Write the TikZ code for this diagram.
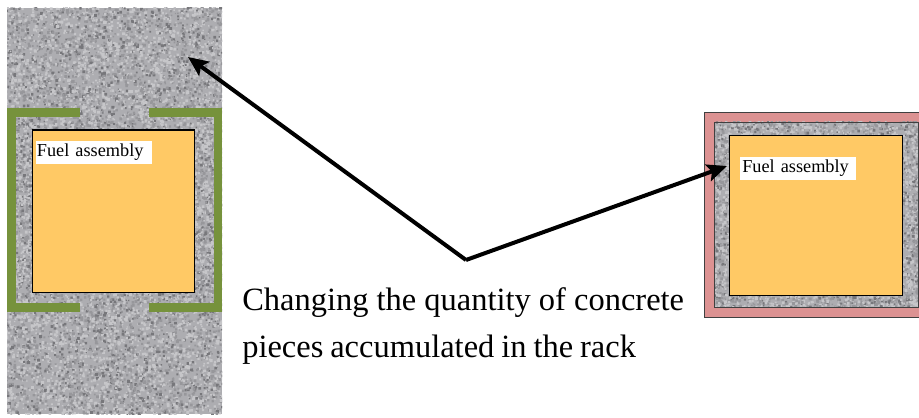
\documentclass[tikz,border=0pt]{standalone}
\usepackage{fontspec}
\setmainfont{Liberation Serif}
\usetikzlibrary{arrows.meta}
\definecolor{concbase}{HTML}{ADADB1}
\definecolor{concdark}{HTML}{77777B}
\definecolor{concmid}{HTML}{97979B}
\definecolor{conclight}{HTML}{C6C6C9}
\definecolor{rackgreen}{HTML}{76923C}
\definecolor{fuelorange}{HTML}{FFC965}
\definecolor{linerpink}{HTML}{DC9292}
\tikzset{
  x=0.75pt,y=-0.75pt,
  concrete/.style={fill=concbase,draw=none},
  fuelbox/.style={draw=black,line width=0.9pt,fill=fuelorange,inner sep=0pt,anchor=north west},
  fuellabel/.style={fill=white,inner sep=0pt,anchor=north west,font=\fontsize{13.7pt}{15pt}\selectfont,align=left},
  rackbar/.style={fill=rackgreen,draw=none},
  pointer/.style={draw=black,line width=3pt,-{Stealth[length=15pt,width=13pt,inset=3pt]}},
  caption/.style={anchor=north west,align=left,inner sep=0pt,font=\fontsize{24.35pt}{35.2pt}\selectfont}
}
% one batch: #1 small squares of colour #2 in the box x #3..#4, y #5..#6 (reference pixels)
\newcommand{\grainbatch}[6]{%
  \begin{pgfscope}\pgfsetfillcolor{#2}%
  \foreach \n in {1,...,#1}{%
    \pgfmathsetmacro{\gs}{0.9+rnd*1.3}%
    \pgfmathsetmacro{\gx}{0.75*(#3+rnd*(#4-#3))}%
    \pgfmathsetmacro{\gy}{-0.75*(#5+rnd*(#6-#5))}%
    \pgfpathrectangle{\pgfqpoint{\gx pt}{\gy pt}}{\pgfqpoint{\gs pt}{-\gs pt}}%
  }%
  \pgfusepath{fill}\end{pgfscope}%
}
% #1 rounds of interleaved batches
\newcommand{\grain}[5]{%
  \foreach \r in {1,...,#1}{%
    \grainbatch{8}{concdark}{#2}{#3}{#4}{#5}%
    \grainbatch{22}{conclight}{#2}{#3}{#4}{#5}%
    \grainbatch{18}{concmid}{#2}{#3}{#4}{#5}%
  }%
}
\begin{document}
\begin{tikzpicture}
\useasboundingbox (0,0) rectangle (919,417);
\pgfmathsetseed{4711}
% left concrete column
\fill[concrete] (7,8) rectangle (222,414);
\begin{scope}
\clip (7,8) rectangle (222,414);
\grain{60}{5}{222}{6}{108}
\grain{60}{5}{222}{312}{414}
\grain{26}{5}{32}{108}{312}
\grain{26}{194}{222}{108}{312}
\grain{10}{32}{194}{108}{129}
\grain{10}{32}{194}{291}{312}
\end{scope}
% green rack brackets
\fill[rackbar] (7,108) rectangle (80,117);
\fill[rackbar] (149,108) rectangle (222,117);
\fill[rackbar] (7,303) rectangle (80,312);
\fill[rackbar] (149,303) rectangle (221,312);
\fill[rackbar] (7,108) rectangle (16,312);
\fill[rackbar] (213.5,108) rectangle (222,312);
% right liner
\fill[linerpink,draw=black!75!white,line width=0.6pt] (704.5,112.5) rectangle (919,317);
\fill[concrete] (714,122) rectangle (918,307);
\begin{scope}
\clip (714,122) rectangle (918,307);
\grain{10}{712}{918}{120}{134}
\grain{10}{712}{918}{295}{307}
\grain{10}{712}{729}{134}{295}
\grain{10}{902}{918}{134}{295}
\end{scope}
\draw[black!75!white,line width=0.6pt] (714,122) rectangle (918,307);
% fuel assemblies
\node[fuelbox,minimum width=121.5pt,minimum height=121.5pt] (leftfuel) at (32,129.5) {};
\node[fuelbox,minimum width=129.5pt,minimum height=120.5pt] (rightfuel) at (729,134.5) {};
\node[fuellabel,text width=87pt,minimum height=17pt] (leftlabel) at (36,141) {\hspace{0.5pt}Fuel assembly};
\node[fuellabel,text width=87pt,minimum height=17pt] (rightlabel) at (740,157) {\hspace{1.5pt}Fuel assembly};
% caption and arrows
\node[caption] (cap) at (242,287) {Changing the quantity of concrete\\{\spaceskip=5.2pt pieces accumulated in the rack}};
\coordinate (apex) at (466,260);
\coordinate (lefttarget) at (188,57);
\coordinate (righttarget) at (727,166);
\draw[pointer] (apex) -- (lefttarget);
\draw[pointer] (apex) -- (righttarget);
\end{tikzpicture}
\end{document}
